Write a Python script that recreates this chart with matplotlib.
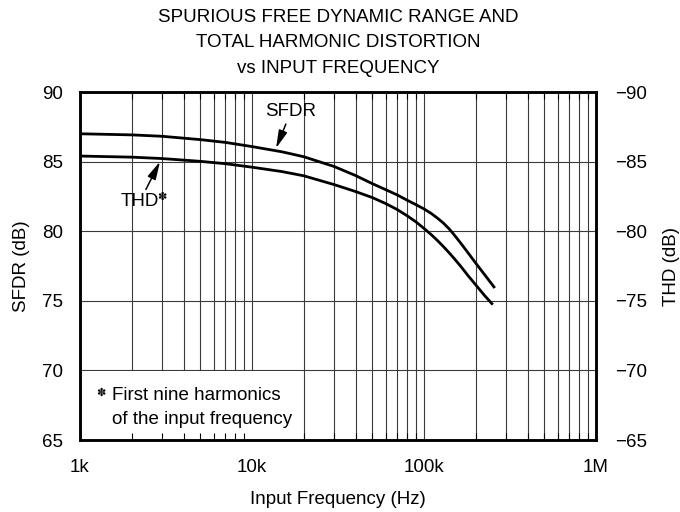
import matplotlib
matplotlib.use("Agg")
from matplotlib import pyplot as plt
from matplotlib.patches import Rectangle
from matplotlib.ticker import FixedLocator, NullFormatter

plt.rcParams["font.family"] = ["Liberation Sans", "DejaVu Sans"]
FS = 13.5

# Data (frequency in Hz, levels in dB)
sfdr_freq = [1e3, 2e3, 3e3, 5e3, 7e3, 10e3, 15e3, 20e3, 30e3, 40e3, 50e3, 60e3, 70e3, 80e3, 90e3,
             100e3, 110e3, 120e3, 130e3, 140e3, 150e3, 165e3, 180e3, 200e3, 225e3, 255e3]
sfdr_db = [87.0, 86.92, 86.82, 86.58, 86.38, 86.08, 85.7, 85.35, 84.65, 84.0, 83.42, 82.98, 82.6, 82.22,
           81.9, 81.6, 81.28, 80.93, 80.57, 80.17, 79.73, 79.08, 78.46, 77.7, 76.88, 76.0]
thd_freq = [1e3, 2e3, 3e3, 5e3, 7e3, 10e3, 15e3, 20e3, 30e3, 40e3, 50e3, 60e3, 70e3, 80e3, 90e3,
            100e3, 110e3, 120e3, 130e3, 140e3, 150e3, 165e3, 180e3, 200e3, 225e3, 248e3]
thd_db = [-85.4, -85.32, -85.22, -85.02, -84.85, -84.6, -84.28, -83.98, -83.35, -82.85, -82.42, -81.98,
          -81.55, -81.1, -80.66, -80.2, -79.76, -79.32, -78.88, -78.45, -78.03, -77.42, -76.82, -76.14,
          -75.38, -74.8]

x_ticks = [1e3, 1e4, 1e5, 1e6]
x_tick_labels = ["1k", "10k", "100k", "1M"]
left_ticks = [65, 70, 75, 80, 85, 90]
right_ticks = [-65, -70, -75, -80, -85, -90]

fig = plt.figure(figsize=(6.8, 5.12), dpi=100)
ax = fig.add_axes([0.1176, 0.1406, 0.7589, 0.6797])

ax.set_xscale("log")
ax.set_xlim(1e3, 1e6)
ax.set_ylim(65, 90)
ax.set_axisbelow(True)
ax.xaxis.set_minor_locator(FixedLocator([m * d for d in (1e3, 1e4, 1e5) for m in range(2, 10)]))
ax.xaxis.set_minor_formatter(NullFormatter())
ax.set_xticks(x_ticks, x_tick_labels)
ax.set_yticks(left_ticks)
ax.grid(True, which="both", axis="x", color="#3a3a3a", linewidth=0.8)
ax.grid(True, which="major", axis="y", color="#3a3a3a", linewidth=0.8)
ax.tick_params(which="both", direction="in", length=0, labelsize=FS)
ax.tick_params(axis="x", pad=13.5)
ax.tick_params(axis="y", pad=12)

ax.plot(sfdr_freq, sfdr_db, color="black", linewidth=2, zorder=3)

# footnote box hides the grid behind it
ax.add_patch(Rectangle((1e3, 65), 19e3 - 1e3, 4.93, facecolor="white", edgecolor="none", zorder=1))
ax.text(0.032, 0.128, "\u273d", fontsize=8, ha="left", va="baseline",
        transform=ax.transAxes, zorder=4)
ax.text(0.0614, 0.115, "First nine harmonics", fontsize=FS, ha="left", va="baseline",
        transform=ax.transAxes, zorder=4)
ax.text(0.0614, 0.046, "of the input frequency", fontsize=FS, ha="left", va="baseline",
        transform=ax.transAxes, zorder=4)

ax2 = ax.twinx()
ax2.set_ylim(-65, -90)
ax2.set_yticks(right_ticks, ["\u2212" + str(abs(v)) for v in right_ticks])
ax2.xaxis.set_visible(True)
ax2.tick_params(axis="x", which="both", direction="in", labelbottom=False, bottom=True, top=True)
ax2.tick_params(axis="x", which="minor", length=5, width=0.8)
ax2.tick_params(axis="x", which="major", length=0)
ax2.tick_params(axis="y", length=0, labelsize=FS, pad=14)
ax2.plot(thd_freq, thd_db, color="black", linewidth=2, zorder=3)

for a in (ax, ax2):
    for s in a.spines.values():
        s.set_linewidth(1.8)

# annotations
arrow = dict(arrowstyle="-|>,head_length=0.9,head_width=0.22", color="black", lw=1.1,
             mutation_scale=12, shrinkA=1, shrinkB=0)
ax.annotate("SFDR", xy=(13.8e3, 85.96), xytext=(16.85e3, 88.6), fontsize=FS,
            ha="center", va="center", arrowprops=arrow)
ax.annotate("THD", xy=(2.92e3, 85.0), xytext=(2.22e3, 82.1), fontsize=FS,
            ha="center", va="center", arrowprops=arrow)
ax.text(2.82e3, 82.45, "\u273d", fontsize=8, ha="left", va="center")

ax.set_xlabel("Input Frequency (Hz)", fontsize=FS, labelpad=11)
ax.set_ylabel("SFDR (dB)", fontsize=FS, labelpad=9)
ax2.set_ylabel("THD (dB)", fontsize=FS, labelpad=11)

fig.text(0.497, 0.965, "SPURIOUS FREE DYNAMIC RANGE AND", fontsize=FS, ha="center", va="center")
fig.text(0.497, 0.917, "TOTAL HARMONIC DISTORTION", fontsize=FS, ha="center", va="center")
fig.text(0.497, 0.867, "vs INPUT FREQUENCY", fontsize=FS, ha="center", va="center")

fig.savefig("out.png", dpi=100)
